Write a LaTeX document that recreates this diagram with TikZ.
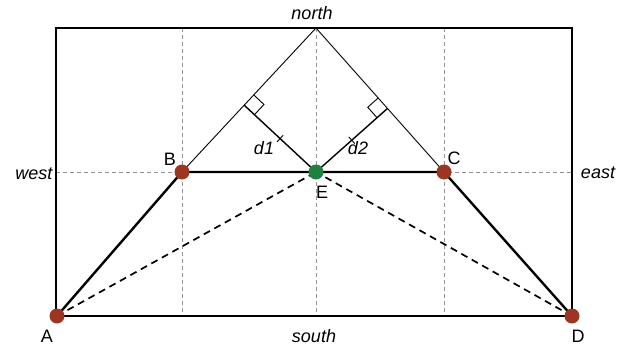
\documentclass[tikz,border=0pt]{standalone}
\usepackage{fontspec}
\setmainfont{Liberation Sans}
\usetikzlibrary{calc}
\definecolor{dotred}{HTML}{9C3522}
\definecolor{dotgreen}{HTML}{1F8040}
\begin{document}
\begin{tikzpicture}[x=1pt,y=-1pt,
  gridline/.style={gray!85,line width=1pt,dash pattern=on 4pt off 3pt},
  frame/.style={line width=1.7pt},
  thin line/.style={line width=0.9pt},
  perp/.style={line width=1.4pt},
  trap/.style={line width=2.4pt},
  diag/.style={line width=1.7pt,dash pattern=on 7pt off 5pt},
  rdot/.style={circle,fill=dotred,inner sep=0pt,minimum size=15pt},
  gdot/.style={circle,fill=dotgreen,inner sep=0pt,minimum size=15pt},
  lbl/.style={font=\fontsize{18}{21}\selectfont,inner sep=0pt},
  ilbl/.style={font=\fontsize{18}{21}\selectfont\itshape,inner sep=0pt}]
\useasboundingbox (0,0) rectangle (637,348);
% key points
\coordinate (A) at (57,316);
\coordinate (B) at (182,172);
\coordinate (C) at (444,172);
\coordinate (D) at (572,316);
\coordinate (E) at (316,172);
\coordinate (N) at (316,28);
\coordinate (S) at (316,316);
\coordinate (W) at (56,172);
\coordinate (Ea) at (572,172);
\coordinate (NW) at (56,28);
\coordinate (SE) at (572,316);
\coordinate (gB1) at (182,28);
\coordinate (gB2) at (182,316);
\coordinate (gC1) at (444,28);
\coordinate (gC2) at (444,316);
% grid
\draw[gridline] (gB1) -- (gB2);
\draw[gridline] (N) -- (S);
\draw[gridline] (gC1) -- (gC2);
\draw[gridline] (W) -- (Ea);
% frame
\draw[frame] (NW) rectangle (SE);
% triangle sides
\draw[thin line] (N) -- (B);
\draw[thin line] (N) -- (C);
% perpendiculars
\coordinate (F1) at ($(N)!(E)!(B)$);
\coordinate (F2) at ($(N)!(E)!(C)$);
\draw[perp] (E) -- (F1);
\draw[perp] (E) -- (F2);
\coordinate (F1a) at ($(F1)!14pt!(N)$);
\coordinate (F1b) at ($(F1)!14pt!(E)$);
\draw[thin line] (F1a) -- ($(F1a)+(F1b)-(F1)$) -- (F1b);
\coordinate (F2a) at ($(F2)!14pt!(N)$);
\coordinate (F2b) at ($(F2)!14pt!(E)$);
\draw[thin line] (F2a) -- ($(F2a)+(F2b)-(F2)$) -- (F2b);
\coordinate (M1) at ($(F1)!0.5!(E)$);
\coordinate (M2) at ($(F2)!0.5!(E)$);
\draw[thin line] ($(M1)!4.5pt!90:(E)$) -- ($(M1)!4.5pt!-90:(E)$);
\draw[thin line] ($(M2)!4.5pt!90:(E)$) -- ($(M2)!4.5pt!-90:(E)$);
% diagonals
\draw[diag] (A) -- (E);
\draw[diag] (D) -- (E);
% trapezoid
\draw[trap] (A) -- (B) -- (C) -- (D);
% dots
\node[rdot] (dA) at (A) {};
\node[rdot] (dB) at (B) {};
\node[rdot] (dC) at (C) {};
\node[rdot] (dD) at (D) {};
\node[gdot] (dE) at (E) {};
% labels
\node[lbl] (lA) at (47,336) {A};
\node[lbl] (lB) at (170,159) {B};
\node[lbl] (lC) at (454,158) {C};
\node[lbl] (lD) at (578,336) {D};
\node[lbl] (lE) at (322,192) {E};
\node[ilbl] (ln) at (312,13) {north};
\node[ilbl] (ls) at (314,336) {south};
\node[ilbl] (lw) at (34,174) {west};
\node[ilbl] (le) at (598,173) {east};
\node[ilbl] (ld1) at (264,148.5) {d1};
\node[ilbl] (ld2) at (358,148.5) {d2};
\end{tikzpicture}
\end{document}
